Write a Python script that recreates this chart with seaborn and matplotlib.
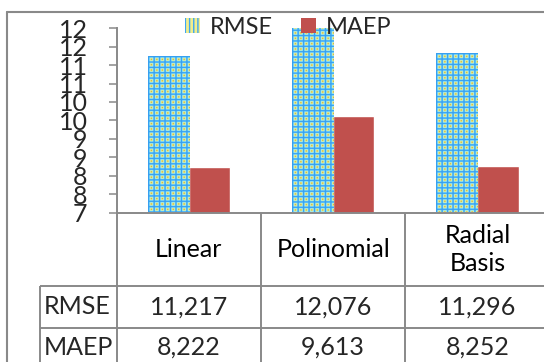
import numpy as np
import pandas as pd
import seaborn as sns
import matplotlib
matplotlib.use("Agg")
import matplotlib.pyplot as plt
from matplotlib.patches import Patch
from matplotlib.lines import Line2D

# ---- data -------------------------------------------------------------
methods = ["Linear", "Polinomial", "Radial\nBasis"]
metrics = ["RMSE", "MAEP"]
rmse = [11.217, 12.076, 11.296]
maep = [8.222, 9.613, 8.252]
rmse_text = ["11,217", "12,076", "11,296"]
maep_text = ["8,222", "9,613", "8,252"]
y_ticks = [7, 7.5, 8, 8.5, 9, 9.5, 10, 10.5, 11, 11.5, 12]
y_tick_labels = ["7", "8", "8", "9", "9", "10", "10", "11", "11", "12", "12"]

df = pd.DataFrame({
    "method": methods * 2,
    "metric": [metrics[0]] * 3 + [metrics[1]] * 3,
    "value": rmse + maep,
})

# ---- style ------------------------------------------------------------
sns.set_theme(style="white")
plt.rcParams["font.family"] = ["Lato", "DejaVu Sans"]
GRID = "#898989"
RED = "#c0504d"
FS = 18
FS_TICK = 18

W, H = 544, 362
fig = plt.figure(figsize=(W / 100, H / 100), dpi=100)


def fx(px):
    return px / W


def fy(py):
    return 1 - py / H


ax_left, ax_right, ax_top, ax_bot = 116.7, 116.7 + 3 * 144.3, 28.3, 212.5
ax = fig.add_axes([fx(ax_left), fy(ax_bot), fx(ax_right - ax_left), (ax_bot - ax_top) / H])

sns.barplot(data=df, x="method", y="value", hue="metric", order=methods,
            hue_order=metrics, palette=["#9be9fb", RED], width=0.571, gap=0,
            saturation=1, legend=False, ax=ax, zorder=2)
ax.set_ylim(7, 12)
ax.set_xlim(-0.5, 2.5)


# patterned fill for the RMSE bars: blue grid, cyan cells, yellow centres
def pattern(wpx, hpx, s=3, p=16):
    yy, xx = np.mgrid[0:int(hpx * s), 0:int(wpx * s)]
    u, v = xx % p, yy % p
    img = np.empty(u.shape + (3,))
    img[:] = matplotlib.colors.to_rgb("#92eafd")
    centre = (u >= 6) & (u < 14) & (v >= 6) & (v < 14)
    img[centre] = matplotlib.colors.to_rgb("#eff08a")
    core = (u >= 8) & (u < 12) & (v >= 8) & (v < 12)
    img[core] = matplotlib.colors.to_rgb("#c8b048")
    grid = (u < 4) | (v < 4)
    img[grid] = matplotlib.colors.to_rgb("#37a0f0")
    return img


for bar in ax.containers[0]:
    x0, w = bar.get_x(), bar.get_width()
    y1 = bar.get_height()
    p0 = ax.transData.transform((x0, 7))
    p1 = ax.transData.transform((x0 + w, y1))
    img = pattern(abs(p1[0] - p0[0]), abs(p1[1] - p0[1]))
    ax.imshow(img, extent=[x0, x0 + w, 7, y1], aspect="auto",
              interpolation="antialiased", origin="upper", zorder=2.5)
    bar.set_visible(False)

ax.set_ylim(7, 12)
ax.set_xlim(-0.5, 2.5)
ax.set_aspect("auto")

# ---- axes styling -----------------------------------------------------
for side in ["top", "right"]:
    ax.spines[side].set_visible(False)
for side in ["left", "bottom"]:
    ax.spines[side].set_color(GRID)
    ax.spines[side].set_linewidth(1.4)
ax.set_yticks(y_ticks)
ax.set_yticklabels(y_tick_labels, fontsize=FS_TICK)
ax.tick_params(axis="y", length=6, width=1.1, color=GRID, pad=15, left=True)
ax.set_xticks([])
ax.set_xlabel("")
ax.set_ylabel("")

# ---- legend -----------------------------------------------------------
handles = [Patch(facecolor="#f2ee8c", edgecolor="#3ea6f2", hatch="||||", lw=0),
           Patch(facecolor=RED, lw=0)]
leg = ax.legend(handles, metrics, ncol=2, loc="center left",
                bbox_to_anchor=(fx(185), fy(27)), bbox_transform=fig.transFigure,
                frameon=False, fontsize=17, handlelength=0.62, handleheight=0.62,
                handletextpad=0.42, columnspacing=1.2, borderpad=0, borderaxespad=0)
leg.set_zorder(10)

# ---- data table -------------------------------------------------------
line_kw = dict(color=GRID, lw=1.4, solid_capstyle="butt")
row_header_bottom, row1_bottom, row2_bottom = 286, 328, 371
left_table = 40
col_edges = [ax_left + i * 144.3 for i in range(4)]
for xe in col_edges:
    fig.add_artist(Line2D([fx(xe)] * 2, [fy(ax_bot), fy(row2_bottom)], **line_kw))
fig.add_artist(Line2D([fx(left_table)] * 2, [fy(row_header_bottom), fy(row2_bottom)], **line_kw))
for yr in [row_header_bottom, row1_bottom]:
    fig.add_artist(Line2D([fx(left_table), fx(col_edges[-1])], [fy(yr)] * 2, **line_kw))

centres = [ax_left + (i + 0.5) * 144.3 for i in range(3)]
for xc, name in zip(centres, methods):
    fig.text(fx(xc), fy((ax_bot + row_header_bottom) / 2), name, ha="center",
             va="center", fontsize=FS, linespacing=1.25, color="black")
for label, texts, yc in [(metrics[0], rmse_text, (row_header_bottom + row1_bottom) / 2),
                         (metrics[1], maep_text, (row1_bottom + row2_bottom) / 2 - 2)]:
    fig.text(fx(left_table + 4), fy(yc), label, ha="left", va="center", fontsize=FS)
    for xc, t in zip(centres, texts):
        fig.text(fx(xc), fy(yc), t, ha="center", va="center", fontsize=FS)

# ---- chart area border ------------------------------------------------
fig.add_artist(Line2D([fx(7), fx(7)], [fy(12), 0], color=GRID, lw=1.5))
fig.add_artist(Line2D([fx(7), 1], [fy(12), fy(12)], color=GRID, lw=1.5))

fig.savefig("out.png", dpi=100, facecolor="white")
